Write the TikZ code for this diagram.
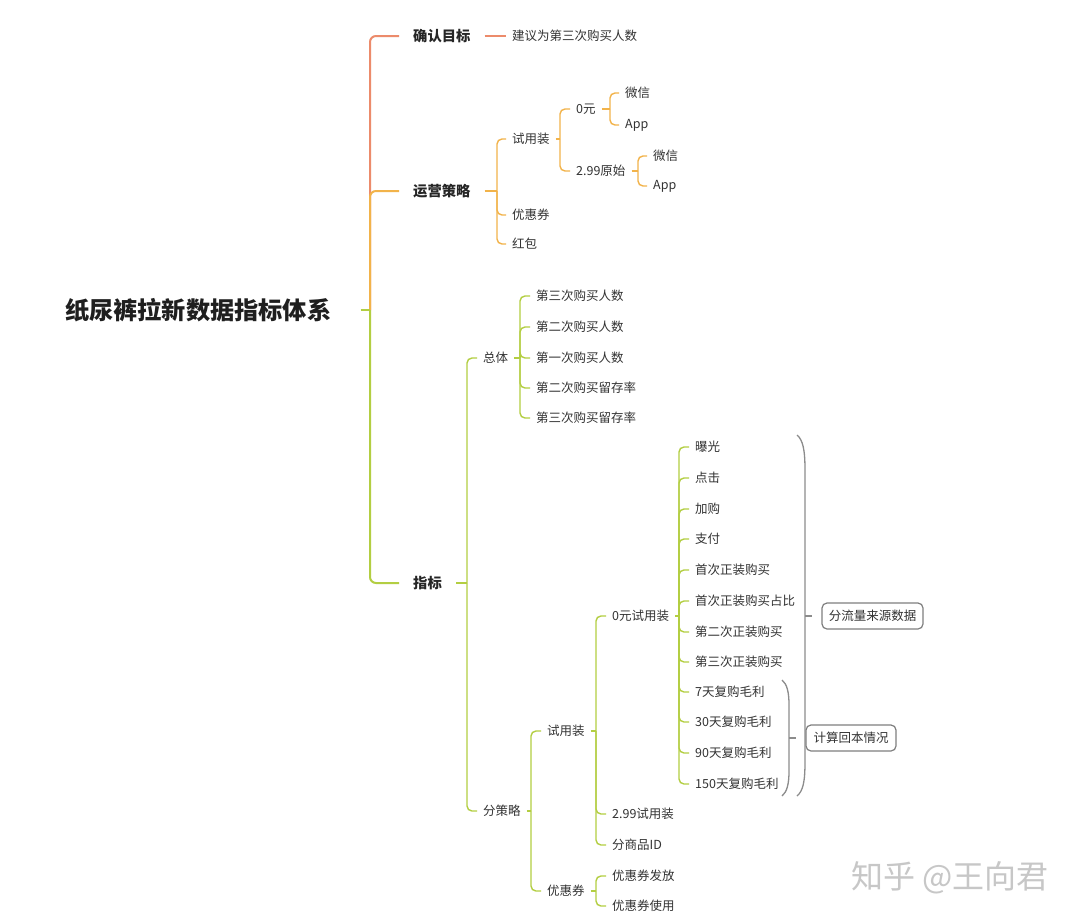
\documentclass[tikz,border=0pt]{standalone}
\usepackage{fontspec}
\newfontfamily\cjk{Noto Sans CJK SC}
\definecolor{cred}{HTML}{EC8B6B}
\definecolor{corange}{HTML}{F2B34A}
\definecolor{cgreen}{HTML}{B3CE42}
\definecolor{ctext}{HTML}{333333}
\definecolor{cbrace}{HTML}{8C8C8C}
\tikzset{
  rootnode/.style={font=\cjk\bfseries\fontsize{24.2}{28}\selectfont, text=black!88, inner sep=0pt, anchor=west},
  mainnode/.style={font=\cjk\bfseries\fontsize{14.3}{17}\selectfont, text=black!85, inner xsep=14pt, inner ysep=2pt, anchor=west},
  leaf/.style={font=\cjk\fontsize{12.5}{15}\selectfont, text=ctext, inner xsep=6pt, inner ysep=2pt, anchor=west},
  mainline/.style={line width=2pt, rounded corners=6pt},
  subline/.style={line width=1.4pt, rounded corners=5pt},
  bracepath/.style={draw=cbrace, line width=1.3pt},
  notebox/.style={draw=cbrace!90!black, line width=1.2pt, rounded corners=5pt, font=\cjk\fontsize{12.5}{15}\selectfont, text=ctext, minimum height=26pt, inner xsep=6pt},
}
\begin{document}
\begin{tikzpicture}[x=1pt,y=-1pt]
\fill[white] (0,0) rectangle (1080,922);
\useasboundingbox (0,0) rectangle (1080,922);

% ---------- nodes ----------
\node[rootnode] (root) at (65,310) {纸尿裤拉新数据指标体系};
\coordinate (rj) at (370,310);

\node[mainnode] (qr) at (399,36) {确认目标};
\node[mainnode] (yy) at (399,191) {运营策略};
\node[mainnode] (zb) at (399,583) {指标};

\node[leaf] (jy) at (506,36) {建议为第三次购买人数};

% 运营策略 subtree
\coordinate (yyj) at (497,191);
\node[leaf] (sy1) at (506,139) {试用装};
\node[leaf] (yhq1) at (506,215) {优惠券};
\node[leaf] (hb) at (506,244) {红包};
\coordinate (sy1j) at (560,139);
\node[leaf] (y0) at (570,109) {0元};
\node[leaf] (y299) at (570,171) {2.99原始};
\coordinate (y0j) at (610,109);
\node[leaf] (wx1) at (619,93) {微信};
\node[leaf] (app1) at (619,125) {App};
\coordinate (y299j) at (638,171);
\node[leaf] (wx2) at (647,156) {微信};
\node[leaf] (app2) at (647,186) {App};

% 指标 subtree
\coordinate (zbj) at (467,583);
\node[leaf] (zt) at (477,358) {总体};
\node[leaf] (fcl) at (477,811) {分策略};
\coordinate (ztj) at (520,358);
\node[leaf] (zt1) at (530,296) {第三次购买人数};
\node[leaf] (zt2) at (530,327) {第二次购买人数};
\node[leaf] (zt3) at (530,358) {第一次购买人数};
\node[leaf] (zt4) at (530,388) {第二次购买留存率};
\node[leaf] (zt5) at (530,418) {第三次购买留存率};
\coordinate (fclj) at (531,811);
\node[leaf] (sy2) at (541,731) {试用装};
\node[leaf] (yhq2) at (541,891) {优惠券};
\coordinate (sy2j) at (596,731);
\node[leaf] (s0) at (606,616) {0元试用装};
\node[leaf] (s299) at (606,814) {2.99试用装};
\node[leaf] (sid) at (606,845) {分商品ID};
\coordinate (yhq2j) at (596,891);
\node[leaf] (ff) at (606,876) {优惠券发放};
\node[leaf] (sy) at (606,906) {优惠券使用};
\coordinate (s0j) at (679,616);
\node[leaf] (a1) at (689,447) {曝光};
\node[leaf] (a2) at (689,478) {点击};
\node[leaf] (a3) at (689,509) {加购};
\node[leaf] (a4) at (689,539) {支付};
\node[leaf] (a5) at (689,570) {首次正装购买};
\node[leaf] (a6) at (689,601) {首次正装购买占比};
\node[leaf] (a7) at (689,632) {第二次正装购买};
\node[leaf] (a8) at (689,662) {第三次正装购买};
\node[leaf] (a9) at (689,692) {7天复购毛利};
\node[leaf] (a10) at (689,722) {30天复购毛利};
\node[leaf] (a11) at (689,753) {90天复购毛利};
\node[leaf] (a12) at (689,784) {150天复购毛利};

% notes
\node[notebox, minimum width=101pt] (bx1) at (872.5,616) {分流量来源数据};
\node[notebox, minimum width=90pt] (bx2) at (851,738) {计算回本情况};
\coordinate (b1) at (805,616);
\coordinate (b2) at (789,738);

% watermark
\node[font=\cjk\fontsize{32}{35}\selectfont, text=black!22, anchor=west, inner sep=0pt] (wm) at (851,878) {知乎 @王向君};

% ---------- connectors ----------
\draw[mainline, cred] (rj) |- (qr.west);
\draw[line width=1.4pt, cred] (qr.east) -- (jy.west);
\draw[mainline, corange] (rj) |- (yy.west);
\draw[mainline, cgreen] (rj) |- (zb.west);
\draw[line width=2pt, cgreen] ([xshift=29pt]root.east) -- (rj);

% 运营策略
\begin{scope}[corange]
\draw[subline] (yy.east) -- (yyj);
\foreach \c in {sy1,yhq1,hb} \draw[subline] (yyj) |- (\c.west);
\draw[subline] (sy1.east) -- (sy1j);
\foreach \c in {y0,y299} \draw[subline] (sy1j) |- (\c.west);
\draw[subline] (y0.east) -- (y0j);
\foreach \c in {wx1,app1} \draw[subline] (y0j) |- (\c.west);
\draw[subline] (y299.east) -- (y299j);
\foreach \c in {wx2,app2} \draw[subline] (y299j) |- (\c.west);
\end{scope}

% 指标
\begin{scope}[cgreen]
\draw[subline] (zb.east) -- (zbj);
\foreach \c in {zt,fcl} \draw[subline] (zbj) |- (\c.west);
\draw[subline] (zt.east) -- (ztj);
\foreach \c in {zt1,zt2,zt3,zt4,zt5} \draw[subline] (ztj) |- (\c.west);
\draw[subline] (fcl.east) -- (fclj);
\foreach \c in {sy2,yhq2} \draw[subline] (fclj) |- (\c.west);
\draw[subline] (sy2.east) -- (sy2j);
\foreach \c in {s0,s299,sid} \draw[subline] (sy2j) |- (\c.west);
\draw[subline] (yhq2.east) -- (yhq2j);
\foreach \c in {ff,sy} \draw[subline] (yhq2j) |- (\c.west);
\draw[subline] (s0.east) -- (s0j);
\foreach \c in {a1,a2,a3,a4,a5,a6,a7,a8,a9,a10,a11,a12} \draw[subline] (s0j) |- (\c.west);
\end{scope}

% braces
\draw[bracepath] (797,435) .. controls (803,440) and (805,450) .. (805,470) -- (805,762) .. controls (805,782) and (803,791) .. (797,796);
\draw[bracepath] (b1) -- ([xshift=-9pt]bx1.west);
\draw[bracepath] (782,680) .. controls (787,684) and (789,692) .. (789,705) -- (789,771) .. controls (789,784) and (787,792) .. (782,796);
\draw[bracepath] (b2) -- ([xshift=-9pt]bx2.west);
\end{tikzpicture}
\end{document}
